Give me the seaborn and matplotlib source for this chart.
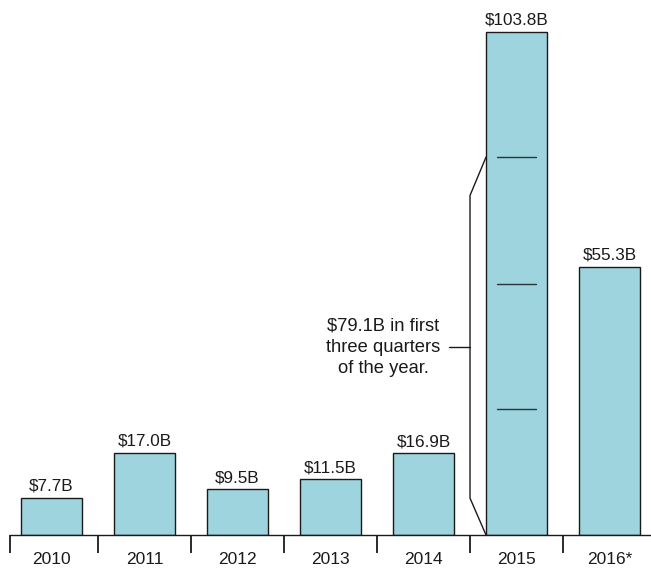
import matplotlib
matplotlib.use("Agg")
import matplotlib.pyplot as plt
import seaborn as sns
import pandas as pd

years = ["2010", "2011", "2012", "2013", "2014", "2015", "2016*"]
values = [7.7, 17.0, 9.5, 11.5, 16.9, 103.8, 55.3]
labels = ["$7.7B", "$17.0B", "$9.5B", "$11.5B", "$16.9B", "$103.8B", "$55.3B"]
quarter_marks = [26.0, 51.7, 77.9]
note = "$79.1B in first\nthree quarters\nof the year."

sns.set_theme(style="white")
plt.rcParams['font.family'] = ['Liberation Sans', 'DejaVu Sans']

df = pd.DataFrame({"year": years, "value": values})

fig = plt.figure(figsize=(6.51, 5.69), dpi=100)
ax = fig.add_axes([10/651, 34/569, 641/651, 535/569])

sns.barplot(data=df, x="year", y="value", color="#9dd4dd", saturation=1,
            edgecolor="#1a1a1a", linewidth=1.0, width=0.656, ax=ax)

ax.set_xlim(-0.446, 6.446)
ax.set_ylim(0, 110.3)

for i, (v, t) in enumerate(zip(values, labels)):
    ax.text(i, v + 0.8, t, ha="center", va="bottom", fontsize=12.3, color="#1a1a1a")

# quarter marks in 2015 bar
i15 = years.index("2015")
for q in quarter_marks:
    ax.plot([i15 - 0.21, i15 + 0.21], [q, q], color="#2a3539", lw=1.0)

# bracket
bx = i15 - 0.5
left_edge = i15 - 0.328
ax.plot([left_edge, bx, bx, left_edge], [0, 7.6, 70.0, quarter_marks[-1]],
        color="#1a1a1a", lw=1.0, solid_joinstyle="miter")
ax.plot([bx - 0.23, bx], [38.7, 38.7], color="#1a1a1a", lw=1.0)
ax.text(i15 - 1.43, 38.7, note, ha="center", va="center", fontsize=13.2,
        color="#1a1a1a", linespacing=1.3)

# axis styling
for s in ["top", "right", "left"]:
    ax.spines[s].set_visible(False)
ax.spines["bottom"].set_color("#1a1a1a")
ax.spines["bottom"].set_linewidth(1.0)
ax.set_yticks([])
ax.set_xlabel("")
ax.set_ylabel("")

ax.set_xticks(range(len(years)))
ax.set_xticklabels(years, fontsize=12.5, color="#1a1a1a")
ax.tick_params(axis="x", which="major", length=0, pad=12)
ax.set_xticks([-0.446] + [i - 0.5 for i in range(1, len(years))], minor=True)
ax.tick_params(axis="x", which="minor", bottom=True, length=13, width=1.3,
               color="#1a1a1a", direction="out")

fig.savefig("out.png", dpi=100)
